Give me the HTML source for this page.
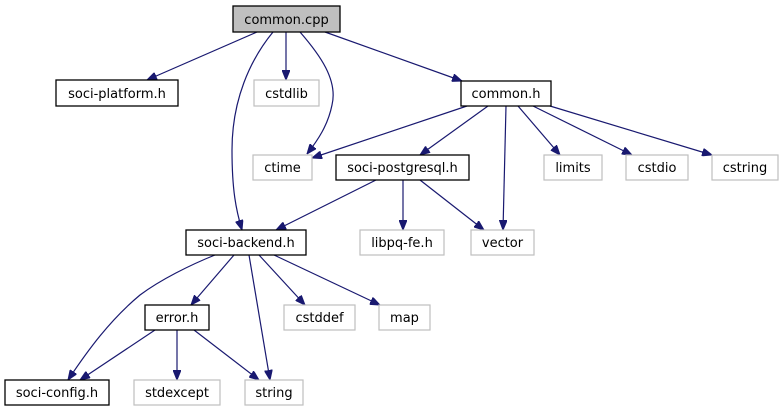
<!DOCTYPE html>
<html><head><meta charset="utf-8"><style>
html,body{margin:0;padding:0;background:#fff;}
svg{display:block;}
text{font-family:"DejaVu Sans","Liberation Sans",sans-serif;font-size:13px;fill:#000;text-anchor:middle;}
.e{fill:none;stroke:#191970;stroke-width:1.2;marker-end:url(#a);}
.d{fill:#fff;stroke:#000;stroke-width:1.3;}
.l{fill:#fff;stroke:#bfbfbf;stroke-width:1.2;}
</style></head><body>
<svg width="784" height="411" viewBox="0 0 784 411" xmlns="http://www.w3.org/2000/svg">
<defs><marker id="a" markerWidth="10" markerHeight="8" refX="10" refY="4" orient="auto" markerUnits="userSpaceOnUse"><path d="M0,0 L10,4 L0,8 z" fill="#191970" stroke="#191970"/></marker></defs>
<path class="e" d="M257,32 L147,80"/>
<path class="e" d="M286,32 L286,80"/>
<path class="e" d="M300,32 C320,55 338,80 332,105 C328,125 318,140 307,154"/>
<path class="e" d="M273,32 C250,60 232,100 232,150 C232,190 236,210 242,230"/>
<path class="e" d="M325,32 L462,81"/>
<path class="e" d="M467,106 L312,158"/>
<path class="e" d="M488,106 L420,155"/>
<path class="e" d="M506,106 L503,230"/>
<path class="e" d="M518,106 L560,155"/>
<path class="e" d="M533,106 L632,155"/>
<path class="e" d="M550,106 L712,155"/>
<path class="e" d="M376,180 L276,230"/>
<path class="e" d="M403,180 L403,230"/>
<path class="e" d="M420,180 L484,230"/>
<path class="e" d="M215,255 C190,265 160,280 140,295 C110,320 88,350 68,380"/>
<path class="e" d="M234,255 L191,305"/>
<path class="e" d="M249,255 L270,380"/>
<path class="e" d="M259,255 L305,305"/>
<path class="e" d="M274,255 L380,305"/>
<path class="e" d="M155,330 L80,380"/>
<path class="e" d="M177,330 L177,380"/>
<path class="e" d="M194,330 L259,380"/>

<rect x="233" y="6" width="107" height="26" fill="#bfbfbf" stroke="#000" stroke-width="1.3"/><text x="286.5" y="24">common.cpp</text>
<rect class="d" x="56" y="80" width="122" height="26"/><text x="117" y="98">soci-platform.h</text>
<rect class="l" x="254" y="80" width="65" height="26"/><text x="286.5" y="98">cstdlib</text>
<rect class="d" x="461" y="81" width="90" height="25"/><text x="506" y="98">common.h</text>
<rect class="l" x="253" y="155" width="59" height="25"/><text x="282.5" y="172">ctime</text>
<rect class="d" x="336" y="155" width="133" height="25"/><text x="402.5" y="172">soci-postgresql.h</text>
<rect class="l" x="544" y="155" width="58" height="25"/><text x="573" y="172">limits</text>
<rect class="l" x="626" y="155" width="62" height="25"/><text x="657" y="172">cstdio</text>
<rect class="l" x="712" y="155" width="66" height="25"/><text x="745" y="172">cstring</text>
<rect class="d" x="186" y="230" width="120" height="25"/><text x="246" y="247">soci-backend.h</text>
<rect class="l" x="360" y="230" width="84" height="25"/><text x="402" y="247">libpq-fe.h</text>
<rect class="l" x="471" y="230" width="63" height="25"/><text x="502.5" y="247">vector</text>
<rect class="d" x="145" y="305" width="64" height="25"/><text x="177" y="322">error.h</text>
<rect class="l" x="284" y="305" width="71" height="25"/><text x="319.5" y="322">cstddef</text>
<rect class="l" x="379" y="305" width="51" height="25"/><text x="404.5" y="322">map</text>
<rect class="d" x="5" y="380" width="104" height="25"/><text x="57" y="397">soci-config.h</text>
<rect class="l" x="134" y="380" width="86" height="25"/><text x="177" y="397">stdexcept</text>
<rect class="l" x="245" y="380" width="58" height="25"/><text x="274" y="397">string</text>
</svg>
</body></html>
